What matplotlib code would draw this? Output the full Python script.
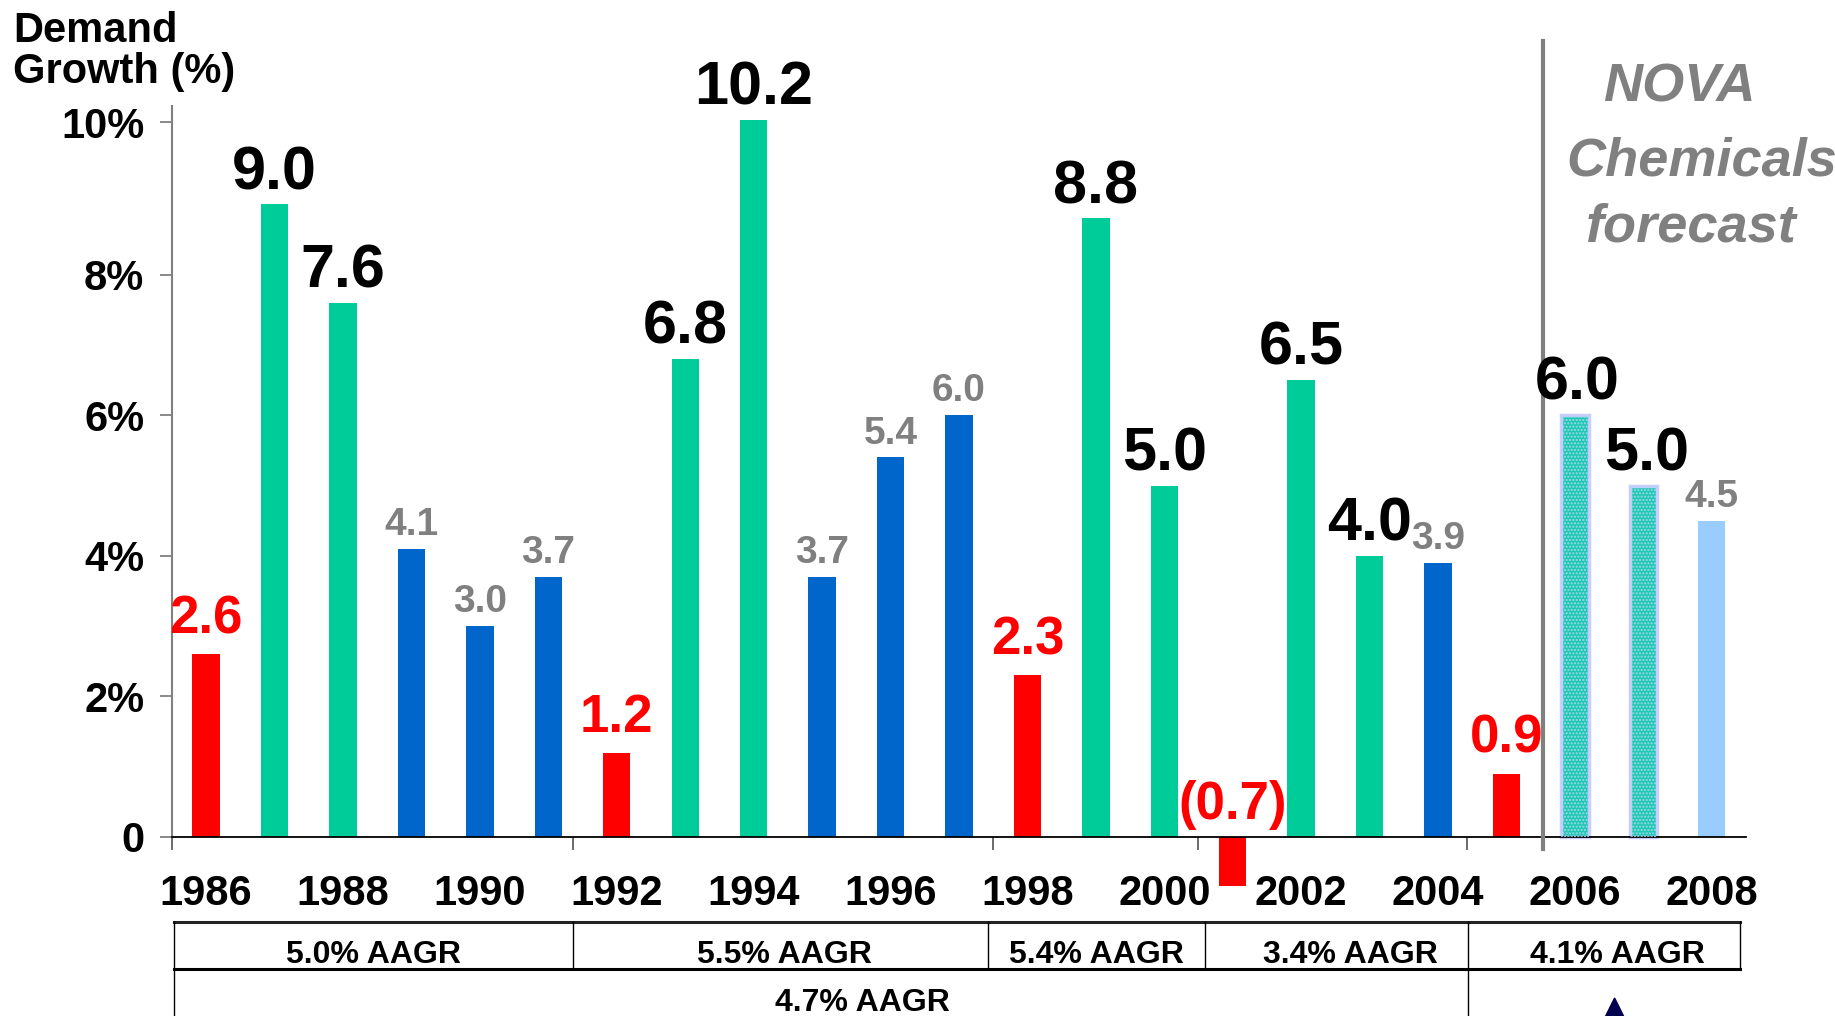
import matplotlib.pyplot as plt
from matplotlib.transforms import blended_transform_factory
from matplotlib.patches import Polygon

plt.rcParams['font.family'] = ['Liberation Sans', 'DejaVu Sans']
plt.rcParams['font.weight'] = 'bold'

# data
years = list(range(1986, 2009))
growth = [2.6, 9.0, 7.6, 4.1, 3.0, 3.7, 1.2, 6.8, 10.2, 3.7, 5.4, 6.0,
          2.3, 8.8, 5.0, -0.7, 6.5, 4.0, 3.9, 0.9, 6.0, 5.0, 4.5]
# r = trough, g = strong, b = moderate, f = forecast (hatched), l = forecast (light)
kinds = ['r', 'g', 'g', 'b', 'b', 'b', 'r', 'g', 'g', 'b', 'b', 'b',
         'r', 'g', 'g', 'r', 'g', 'g', 'b', 'r', 'f', 'f', 'l']

year_ticks = list(range(1986, 2009, 2))
y_ticks = [0, 2, 4, 6, 8, 10.17]
y_ticklabels = ['0', '2%', '4%', '6%', '8%', '10%']

cycle_ticks = [1985.5, 1991.36, 1997.5, 2000.49, 2004.43]
cycle_bounds = [1985.53, 1991.36, 1997.43, 2000.59, 2004.44, 2008.41]
cycle_aagr = ['5.0% AAGR', '5.5% AAGR', '5.4% AAGR', '3.4% AAGR', '4.1% AAGR']
long_bounds = [1985.53, 2004.44]
long_aagr = '4.7% AAGR'
forecast_start = 2005.53

bar_colors = {'r': '#FF0000', 'g': '#00CC99', 'b': '#0066CC', 'f': '#1FC8B0', 'l': '#99CCFF'}
label_style = {
    'r': dict(color='#FF0000', fontsize=38, off=15),
    'g': dict(color='black', fontsize=44, off=11),
    'f': dict(color='black', fontsize=44, off=11),
    'b': dict(color='#808080', fontsize=28, off=10),
    'l': dict(color='#808080', fontsize=28, off=10),
}

fig = plt.figure(figsize=(18.35, 10.16), dpi=100)
ax = fig.add_axes([0.0937, 0.1070, 0.8578, 0.8095])
ax.set_xlim(1985.5, 2008.5)
ax.set_ylim(-1, 10.7)

for yr, val, k in zip(years, growth, kinds):
    if k == 'f':
        ax.bar(yr, val, width=0.4, color=bar_colors[k], edgecolor='#CCCCFF', linewidth=2.5, zorder=2)
        ax.bar(yr, val, width=0.4, facecolor='none', edgecolor='#A0D8F0', hatch='.....',
               linewidth=0, zorder=3)
    else:
        ax.bar(yr, val, width=0.4, color=bar_colors[k], linewidth=0, zorder=2)

    st = label_style[k]
    txt = f'({abs(val):.1f})' if val < 0 else f'{val:.1f}'
    ax.annotate(txt, xy=(yr, max(val, 0)), xytext=(2 if k == 'f' else 0, st['off'] if val >= 0 else 13),
                textcoords='offset points', ha='center', va='baseline',
                fontsize=st['fontsize'], color=st['color'], fontweight='bold', zorder=5)

# axes styling
for s in ['top', 'right']:
    ax.spines[s].set_visible(False)
ax.spines['bottom'].set_position(('data', 0))
ax.spines['bottom'].set_linewidth(1.3)
ax.spines['left'].set_bounds(0, 10.4)
ax.spines['left'].set_color('#808080')
ax.spines['left'].set_linewidth(1.5)

ax.set_yticks(y_ticks)
ax.set_yticklabels(y_ticklabels, fontsize=30, fontweight='bold')
ax.tick_params(axis='y', length=9, width=1.3, color='#808080', pad=11)

ax.set_xticks(year_ticks)
ax.set_xticklabels([str(y) for y in year_ticks], fontsize=30, fontweight='bold')
ax.set_xticks(cycle_ticks, minor=True)
ax.tick_params(axis='x', which='major', length=0, pad=27)
ax.tick_params(axis='x', which='minor', length=9, width=1.3, color='#606060')

# forecast divider
ax.plot([forecast_start, forecast_start], [-0.17, 11.32], color='#808080', lw=3,
        clip_on=False, zorder=4)

fig.text(1603 / 1835, 1 - 101 / 1016, 'NOVA', fontsize=39, style='italic', fontweight='bold',
         color='#808080', va='baseline', ha='left')
fig.text(1566 / 1835, 1 - 176 / 1016, 'Chemicals', fontsize=39, style='italic', fontweight='bold',
         color='#808080', va='baseline', ha='left')
fig.text(1585 / 1835, 1 - 241 / 1016, 'forecast', fontsize=39, style='italic', fontweight='bold',
         color='#808080', va='baseline', ha='left')

fig.text(13 / 1835, 1 - 42 / 1016, 'Demand', fontsize=30, fontweight='bold', va='baseline')
fig.text(13 / 1835, 1 - 83 / 1016, 'Growth (%)', fontsize=30, fontweight='bold', va='baseline')

# AAGR table under the axis
tr = blended_transform_factory(ax.transData, fig.transFigure)
row_top, row_mid, row_bot = 0.0925, 0.0463, 0.0
ax.plot([cycle_bounds[0], cycle_bounds[-1]], [row_top, row_top], color='#222222', lw=2.2,
        transform=tr, clip_on=False)
ax.plot([cycle_bounds[0], cycle_bounds[-1]], [row_mid, row_mid], color='black', lw=2.2,
        transform=tr, clip_on=False)
for b in cycle_bounds:
    ax.plot([b, b], [row_top, row_mid], color='black', lw=1, transform=tr, clip_on=False)
for b in long_bounds:
    ax.plot([b, b], [row_mid, row_bot], color='black', lw=1, transform=tr, clip_on=False)
nudge = [0, 0.05, 0, 0.2, 0.2]
for i, lab in enumerate(cycle_aagr):
    xc = (cycle_bounds[i] + cycle_bounds[i + 1]) / 2 + nudge[i]
    ax.text(xc, 0.0522, lab, transform=tr, ha='center', va='baseline',
            fontsize=23, fontweight='bold')
ax.text(sum(long_bounds) / 2 + 0.6, 0.005, long_aagr, transform=tr, ha='center', va='baseline',
        fontsize=23, fontweight='bold')

# small navy arrow peeking in at the bottom
ax.add_patch(Polygon([(2006.58, 0.0177), (2006.32, -0.0177), (2006.84, -0.0177)], closed=True,
                     transform=tr, color='#000050', clip_on=False))

fig.savefig('out.png', dpi=100)
